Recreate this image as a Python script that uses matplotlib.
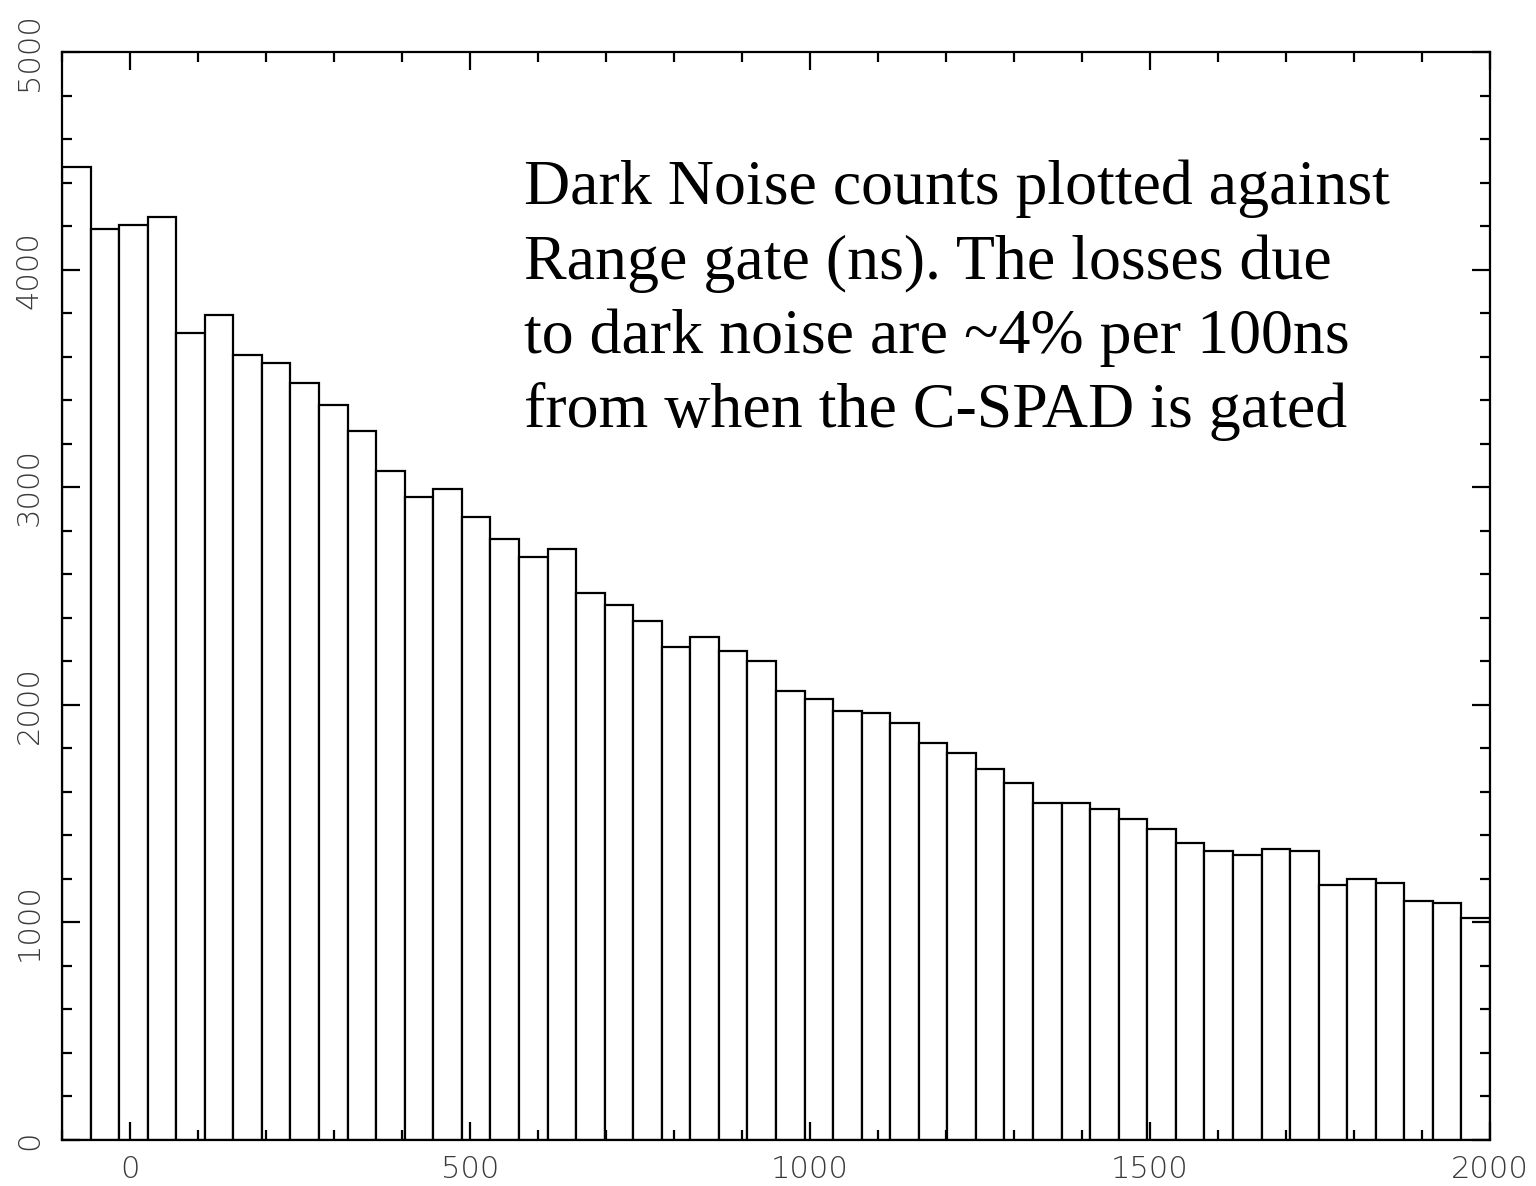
import numpy as np
import matplotlib
matplotlib.use("Agg")
import matplotlib.pyplot as plt

# ---- data ----
counts = [4470, 4187, 4204, 4242, 3710, 3791, 3606, 3571, 3477, 3376,
          3257, 3074, 2955, 2992, 2863, 2762, 2679, 2716, 2514, 2459,
          2385, 2266, 2312, 2247, 2201, 2063, 2027, 1972, 1962, 1916,
          1824, 1778, 1705, 1641, 1549, 1549, 1521, 1475, 1429, 1365,
          1328, 1310, 1337, 1328, 1171, 1199, 1181, 1098, 1088, 1022]
range_min = -100
range_max = 2000
x_ticks = [0, 500, 1000, 1500, 2000]
x_ticklabels = ["0", "500", "1000", "1500", "2000"]
y_ticks = [0, 1000, 2000, 3000, 4000, 5000]
y_ticklabels = ["0", "1000", "2000", "3000", "4000", "5000"]
annotation_lines = ["Dark Noise counts plotted against",
                    "Range gate (ns). The losses due",
                    "to dark noise are ~4% per 100ns",
                    "from when the C-SPAD is gated"]

W, H = 1536, 1186
fig = plt.figure(figsize=(W / 100, H / 100), dpi=100)
ax = fig.add_axes([62 / W, 1 - 1140 / H, (1490 - 62) / W, (1140 - 52) / H])

edges = np.linspace(range_min, range_max, len(counts) + 1)
widths = np.diff(edges)
ax.bar(edges[:-1], counts, width=widths, align="edge", facecolor="white",
       edgecolor="black", linewidth=1.6)

ax.set_xlim(range_min, range_max)
ax.set_ylim(0, 5000)

ax.set_xticks(x_ticks)
ax.set_xticklabels(x_ticklabels)
ax.set_xticks(np.arange(range_min, range_max + 1, 100), minor=True)
ax.set_yticks(y_ticks)
ax.set_yticklabels(y_ticklabels, rotation=90, va="center")
ax.set_yticks(np.arange(0, 5001, 200), minor=True)

for lab in ax.get_xticklabels() + ax.get_yticklabels():
    lab.set_fontfamily(["DejaVu Sans"])
    lab.set_fontsize(22)
    lab.set_fontweight("light")
    lab.set_color("#3a3a3a")

ax.tick_params(which="both", direction="in", top=True, right=True,
               width=1.6, color="black")
ax.tick_params(which="major", length=13, pad=11)
ax.tick_params(axis="y", which="major", pad=13)
ax.tick_params(which="minor", length=7.5)

for s in ax.spines.values():
    s.set_linewidth(1.6)

baselines = [204, 279, 353, 427]
for line, by in zip(annotation_lines, baselines):
    fig.text(524 / W, 1 - by / H, line, family="Liberation Serif",
             fontsize=46, va="baseline", ha="left", color="black")

fig.savefig("out.png", dpi=100)
